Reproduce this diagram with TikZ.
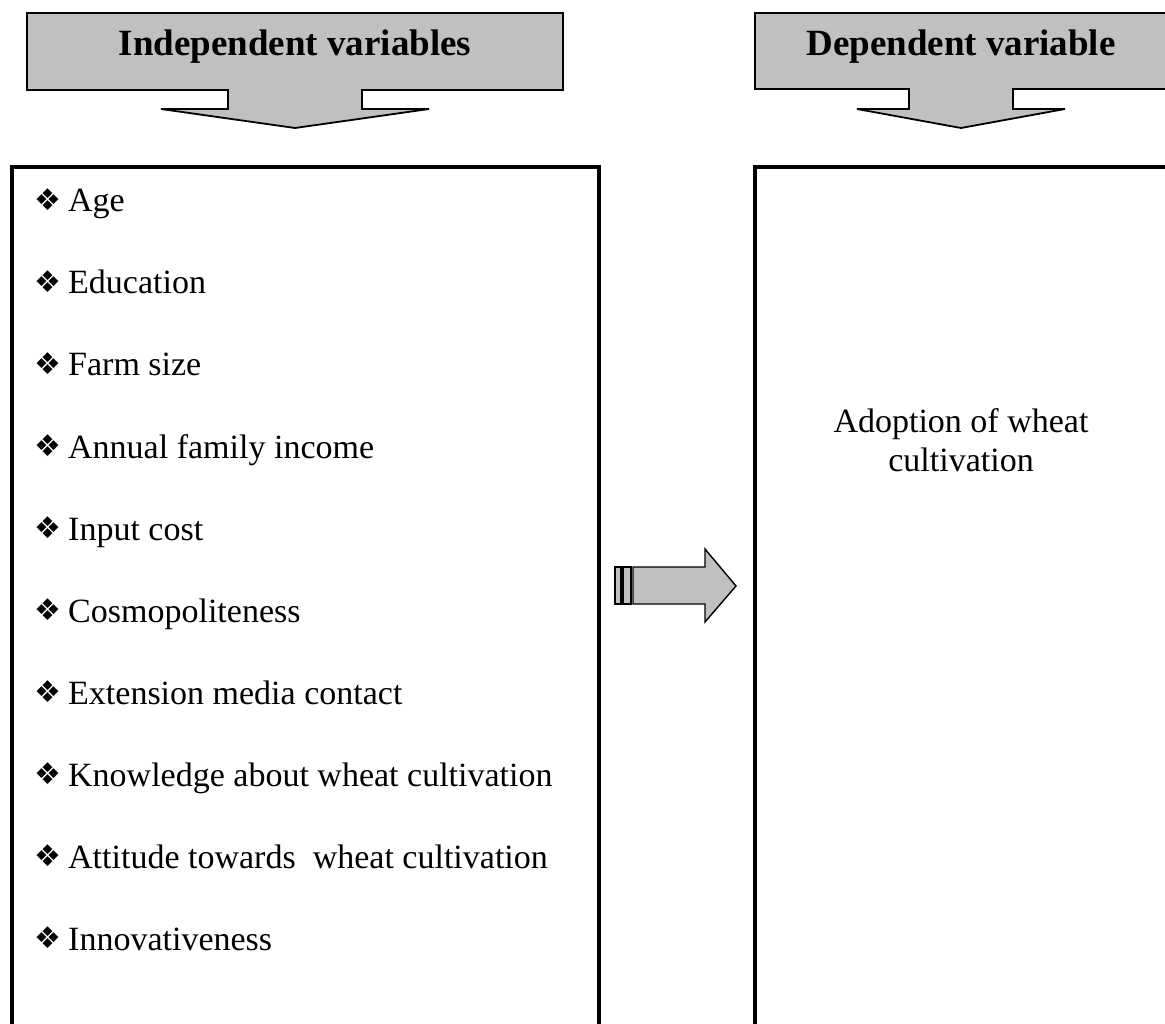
\documentclass[tikz,border=0pt]{standalone}
\usepackage{fontspec}
\setmainfont{Liberation Serif}
\newfontfamily\symfont{DejaVu Sans}
\definecolor{calgray}{HTML}{C0C0C0}
\begin{document}
\begin{tikzpicture}[x=1pt,y=-1pt,
  callout/.style={draw=black, line width=1.8pt, fill=calgray, line join=miter},
  bigbox/.style={draw=black, line width=4.5pt},
  smallarrow/.style={draw=black, line width=1.4pt, fill=calgray, line join=miter},
  itemtext/.style={anchor=base west, inner sep=0pt, font=\fontsize{34}{40}\selectfont},
  bulletmark/.style={anchor=center, inner sep=0pt, font=\symfont\fontsize{30}{30}\selectfont},
  headtext/.style={anchor=base, inner sep=0pt, font=\fontsize{37}{44}\selectfont\bfseries},
  bodytext/.style={anchor=base, inner sep=0pt, font=\fontsize{34}{40}\selectfont}]
\useasboundingbox (0,0) rectangle (1165,1024);
\clip (0,0) rectangle (1165,1024);
% header callouts
\draw[callout] (27,13) -- (563,13) -- (563,90) -- (362,90) -- (362,109) -- (429,109)
  -- (295,128) -- (161,109) -- (228,109) -- (228,90) -- (27,90) -- cycle;
\node[headtext] (indep) at (295,56) {Independent variables};
\draw[callout] (755,13) -- (1168,13) -- (1168,89) -- (1013,89) -- (1013,109) -- (1065,109)
  -- (961,128) -- (857,109) -- (909,109) -- (909,89) -- (755,89) -- cycle;
\node[headtext] (dep) at (961,56) {Dependent variable};
% big boxes
\draw[bigbox] (12,167) rectangle (599,1110);
\draw[bigbox] (755,167) rectangle (1190,1110);
% items
\foreach \t [count=\i from 0] in {Age,Education,Farm size,Annual family income,Input cost,Cosmopoliteness,Extension media contact,Knowledge about wheat cultivation,{Attitude towards\ \ wheat cultivation},Innovativeness}{
  \node[bulletmark] (bul\i) at (48,200+82*\i) {❖};
  \node[itemtext] (item\i) at (68,212+82*\i) {\t};
}
% dependent text
\node[bodytext] (adopt1) at (961,432) {Adoption of wheat};
\node[bodytext] (adopt2) at (961,471) {cultivation};
% middle arrow
\draw[smallarrow] (615,567) rectangle (621,604);
\draw[smallarrow] (623,567) rectangle (631,604);
\draw[smallarrow] (633,567) -- (705,567) -- (705,549) -- (736,586) -- (705,622) -- (705,604) -- (633,604) -- cycle;
\end{tikzpicture}
\end{document}
